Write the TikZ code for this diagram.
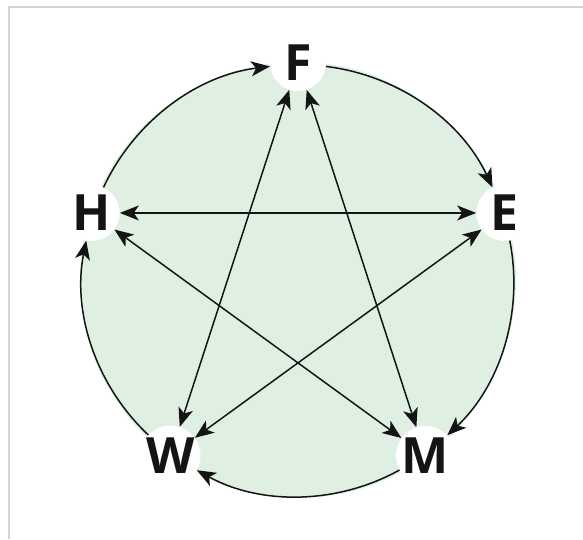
\documentclass[tikz,border=0pt]{standalone}
\usepackage{fontspec}
\setmainfont{Open Sans}
\usetikzlibrary{arrows.meta}
\definecolor{disc}{HTML}{DFF0E3}
\definecolor{framegray}{HTML}{D4D4D4}
\definecolor{ink}{HTML}{141414}

\begin{document}
\begin{tikzpicture}[
    x=1pt, y=1pt,
    >={Stealth[length=19pt,width=15pt,inset=5pt]},
    vtx/.style={circle, fill=white, inner sep=0pt, minimum size=56pt, text=ink,
                font=\fontsize{50}{50}\selectfont\bfseries},
    arrow/.style={->, line width=1.5pt, draw=ink},
    both/.style={<->, line width=1.5pt, draw=ink},
    rim/.style={arrow, bend left=29, looseness=0.91}
  ]
    \useasboundingbox (-298,-259) rectangle (285,280);
    \draw[framegray, line width=1.5pt] (-289,-259) |- (285,273);
    \fill[disc] (0,0) circle (218pt);
    \node[vtx] (F) at (90:217pt) {F};
    \node[vtx] (E) at (18:217pt) {E};
    \node[vtx] (M) at (306:217pt) {M};
    \node[vtx] (W) at (234:217pt) {W};
    \node[vtx] (H) at (162:217pt) {H};
    % star
    \draw[both] (F) -- (W);
    \draw[both] (F) -- (M);
    \draw[both] (H) -- (E);
    \draw[both] (H) -- (M);
    \draw[both] (E) -- (W);
    % rim, clockwise
    \draw[rim] (H) to (F);
    \draw[rim] (F) to (E);
    \draw[rim] (E) to (M);
    \draw[rim] (M) to (W);
    \draw[rim] (W) to (H);
  \end{tikzpicture}
\end{document}
